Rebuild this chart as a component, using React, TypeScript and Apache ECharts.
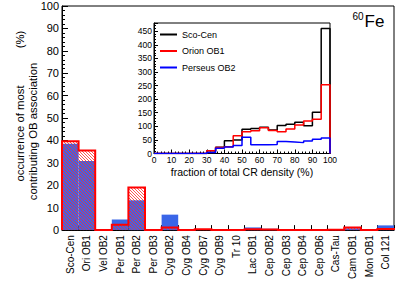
import React, { useEffect, useRef } from 'react';
import * as echarts from 'echarts';

const categories = ['Sco-Cen', 'Ori OB1', 'Vel OB2', 'Per OB1', 'Per OB2', 'Per OB3', 'Cyg OB2', 'Cyg OB4', 'Cyg OB7', 'Cyg OB9', 'Tr 10', 'Lac OB1', 'Cep OB2', 'Cep OB3', 'Cep OB4', 'Cep OB6', 'Cas-Tau', 'Cam OB1', 'Mon OB1', 'Col 121'];
const blueShare = [38.5, 30.8, 0, 4.7, 13.3, 0, 6.9, 0, 0, 0, 0, 1.2, 0.6, 0, 0, 0, 0.3, 0.8, 0, 2.1];
const redShare = [39.7, 35.5, 0, 2.4, 19.0, 0, 1.2, 0, 0.4, 0, 0, 0.4, 0.3, 0, 0, 0, 0.2, 1.2, 0, 0.5];

const densityBinStart = [0, 5, 10, 15, 20, 25, 30, 35, 40, 45, 50, 55, 60, 65, 70, 75, 80, 85, 90, 95];
const densityBinWidth = 5;
const scoCenCounts = [0, 0, 0, 0, 0, 0, 10, 23, 47, 50, 89, 92, 97, 86, 103, 108, 115, 102, 152, 460];
const orionCounts = [0, 0, 0, 0, 0, 0, 10, 22, 25, 65, 80, 84, 95, 85, 80, 90, 105, 120, 126, 253];
const perseusCounts = [0, 0, 0, 0, 0, 0, 4, 19, 24, 29, 60, 32, 32, 33, 44, 42, 40, 46, 52, 57];

const FONT = "'Liberation Sans', Arial, sans-serif";

function stepPoints(starts: number[], width: number, counts: number[]) {
  const pts: number[][] = [[starts[0], 0]];
  counts.forEach((v, i) => {
    pts.push([starts[i], v]);
    pts.push([starts[i] + width, v]);
  });
  pts.push([starts[starts.length - 1] + width, 0]);
  return pts;
}

export default function App() {
  const ref = useRef<HTMLDivElement>(null);
  useEffect(() => {
    document.body.style.margin = '0';
    const chart = echarts.init(ref.current!, undefined, { renderer: 'svg' });
    const axisCommon = {
      axisLine: { show: true, lineStyle: { color: '#000', width: 1 } },
      splitLine: { show: false },
    };
    const option: any = {
      animation: false,
      textStyle: { fontFamily: FONT, color: '#000' },
      grid: [
        { left: 62, top: 6, width: 332, height: 225, show: true, borderColor: '#000', borderWidth: 1, backgroundColor: 'transparent' },
        { left: 154, top: 23, width: 176, height: 130.5, show: true, borderColor: '#000', borderWidth: 1, backgroundColor: '#fff' },
      ],
      xAxis: [
        {
          gridIndex: 0, type: 'category', data: categories, boundaryGap: true, ...axisCommon,
          axisTick: { show: true, inside: true, length: 5, lineStyle: { color: '#000' } },
          axisLabel: { interval: 0, rotate: 90, fontSize: 10, color: '#000', margin: 5, fontFamily: FONT },
        },
        {
          gridIndex: 1, type: 'value', min: 0, max: 100, interval: 10, ...axisCommon,
          axisTick: { show: true, inside: true, length: 4, lineStyle: { color: '#000' } },
          minorTick: { show: true, splitNumber: 5, length: 2, lineStyle: { color: '#000' } },
          axisLabel: { fontSize: 8.5, color: '#000', margin: 2, fontFamily: FONT },
          name: 'fraction of total CR density (%)', nameLocation: 'middle', nameGap: 13,
          nameTextStyle: { fontSize: 10.5, color: '#000', fontFamily: FONT },
        },
      ],
      yAxis: [
        {
          gridIndex: 0, type: 'value', min: 0, max: 100, interval: 10, ...axisCommon,
          axisTick: { show: true, inside: true, length: 6, lineStyle: { color: '#000' } },
          minorTick: { show: true, splitNumber: 5, length: 3, lineStyle: { color: '#000' } },
          axisLabel: { fontSize: 11, color: '#000', margin: 3, fontFamily: FONT },
        },
        {
          gridIndex: 1, type: 'value', min: 0, max: 480, interval: 50, ...axisCommon,
          axisTick: { show: true, inside: true, length: 4, lineStyle: { color: '#000' } },
          minorTick: { show: true, splitNumber: 5, length: 2, lineStyle: { color: '#000' } },
          axisLabel: { fontSize: 8.5, color: '#000', margin: 2, showMaxLabel: false, fontFamily: FONT },
        },
      ],
      legend: {
        data: ['Sco-Cen', 'Orion OB1', 'Perseus OB2'],
        orient: 'vertical', left: 160, top: 28.5, padding: 0,
        icon: 'rect', itemWidth: 17, itemHeight: 2, itemGap: 4.5,
        textStyle: { fontSize: 9, color: '#000', fontFamily: FONT, lineHeight: 12 },
      },
      graphic: [
        { type: 'text', x: 20, y: 133.5, rotation: Math.PI / 2, style: { text: 'occurrence of most', font: `11.3px ${FONT}`, fill: '#000', align: 'center', verticalAlign: 'middle' } },
        { type: 'text', x: 20, y: 39.5, rotation: Math.PI / 2, style: { text: '(%)', font: `11.3px ${FONT}`, fill: '#000', align: 'center', verticalAlign: 'middle' } },
        { type: 'text', x: 32.5, y: 131.5, rotation: Math.PI / 2, style: { text: 'contributing OB association', font: `11.3px ${FONT}`, fill: '#000', align: 'center', verticalAlign: 'middle' } },
        { type: 'text', x: 352.5, y: 11.3, style: { text: '60', font: `10px ${FONT}`, fill: '#000', align: 'left', verticalAlign: 'top' } },
        { type: 'text', x: 364.5, y: 12.5, style: { text: 'Fe', font: `17px ${FONT}`, fill: '#000', align: 'left', verticalAlign: 'top' } },
      ],
      series: [
        {
          type: 'bar', xAxisIndex: 0, yAxisIndex: 0, data: blueShare, barWidth: '100%', barGap: '-100%',
          itemStyle: { color: '#3a66e8' }, z: 2, silent: true,
        },
        {
          type: 'custom', xAxisIndex: 0, yAxisIndex: 0, z: 3, silent: true,
          data: redShare.map((v, i) => [i, v]),
          renderItem: (params: any, api: any) => {
            const i = api.value(0);
            const v = api.value(1);
            if (!(v > 0)) return null;
            const top = api.coord([i, v]);
            const base = api.coord([i, 0]);
            const w = api.size([1, 0])[0];
            const x0 = top[0] - w / 2, x1 = top[0] + w / 2, y0 = top[1], y1 = base[1];
            const children: any[] = [];
            const d = 3;
            const cMin = Math.ceil((y0 - x1) / d) * d;
            for (let C = cMin; C <= y1 - x0; C += d) {
              const xa = Math.max(x0, y0 - C);
              const xb = Math.min(x1, y1 - C);
              if (xb > xa) {
                children.push({ type: 'line', shape: { x1: xa, y1: xa + C, x2: xb, y2: xb + C }, style: { stroke: '#ff2a2a', lineWidth: 0.8 } });
              }
            }
            return { type: 'group', children };
          },
        },
        {
          type: 'custom', xAxisIndex: 0, yAxisIndex: 0, z: 4, silent: true,
          data: [[0, 0]],
          renderItem: (params: any, api: any) => {
            const w = api.size([1, 0])[0];
            const pts: number[][] = [];
            const b0 = api.coord([0, 0]);
            pts.push([b0[0] - w / 2, b0[1]]);
            redShare.forEach((v, i) => {
              const c = api.coord([i, v]);
              pts.push([c[0] - w / 2, c[1]]);
              pts.push([c[0] + w / 2, c[1]]);
            });
            const bN = api.coord([redShare.length - 1, 0]);
            pts.push([bN[0] + w / 2, bN[1]]);
            return { type: 'polyline', shape: { points: pts }, style: { stroke: '#ff0000', lineWidth: 2, fill: null } };
          },
        },
        {
          name: 'Sco-Cen', type: 'line', xAxisIndex: 1, yAxisIndex: 1, data: stepPoints(densityBinStart, densityBinWidth, scoCenCounts),
          symbol: 'none', lineStyle: { color: '#000', width: 1.5 }, itemStyle: { color: '#000' }, z: 5,
        },
        {
          name: 'Orion OB1', type: 'line', xAxisIndex: 1, yAxisIndex: 1, data: stepPoints(densityBinStart, densityBinWidth, orionCounts),
          symbol: 'none', lineStyle: { color: '#ff0000', width: 1.5 }, itemStyle: { color: '#ff0000' }, z: 6,
        },
        {
          name: 'Perseus OB2', type: 'line', xAxisIndex: 1, yAxisIndex: 1, data: stepPoints(densityBinStart, densityBinWidth, perseusCounts),
          symbol: 'none', lineStyle: { color: '#0000ff', width: 1.5 }, itemStyle: { color: '#0000ff' }, z: 7,
        },
      ],
    };
    chart.setOption(option);
    return () => chart.dispose();
  }, []);
  return <div ref={ref} style={{ width: 415, height: 282 }} />;
}
